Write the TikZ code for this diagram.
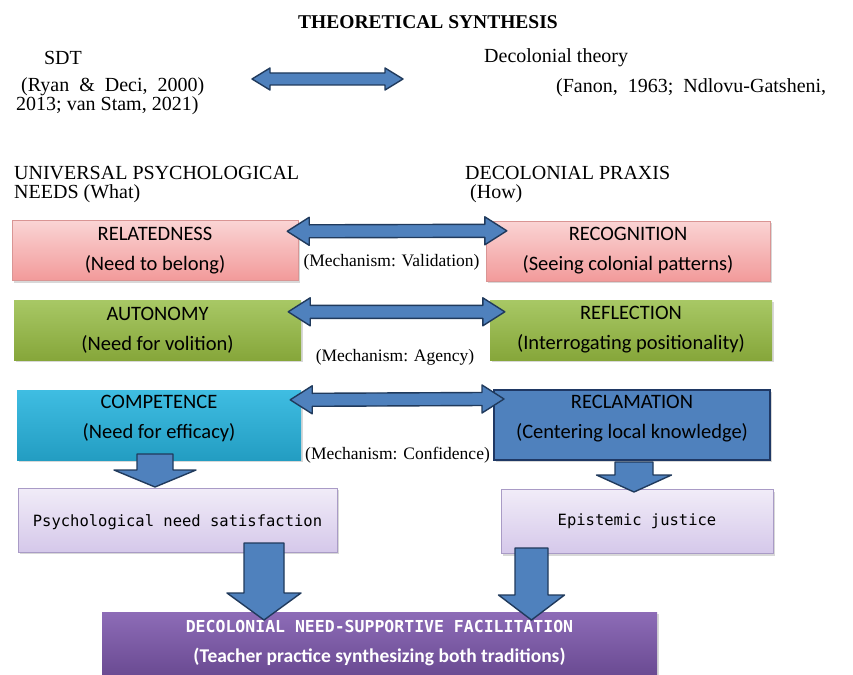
\documentclass[tikz,border=0pt]{standalone}
\usepackage{fontspec}
\setmainfont{Liberation Serif}
\newfontfamily\calfont{Carlito}
\newfontfamily\monofont{DejaVu Sans Mono}
\usepackage{xcolor}
\usetikzlibrary{positioning,calc,shadows}
\definecolor{pinktop}{HTML}{FAD4D4}
\definecolor{pinkbot}{HTML}{F29A9A}
\definecolor{pinkline}{HTML}{D99594}
\definecolor{greentop}{HTML}{A8C865}
\definecolor{greenbot}{HTML}{86A63A}
\definecolor{cyantop}{HTML}{3FBDE2}
\definecolor{cyanbot}{HTML}{239DC2}
\definecolor{reclfill}{HTML}{4F81BD}
\definecolor{reclline}{HTML}{1F3864}
\definecolor{lavtop}{HTML}{F1ECF8}
\definecolor{lavbot}{HTML}{D5C8EA}
\definecolor{lavline}{HTML}{A99BC6}
\definecolor{purtop}{HTML}{8D6CB7}
\definecolor{purbot}{HTML}{6B4B93}
\definecolor{arrowfill}{HTML}{4F81BD}
\definecolor{arrowline}{HTML}{203A5C}
\tikzset{
headtext/.style={
inner sep=0pt,
align=left,
font=\fontsize{20}{19}\selectfont
},
mechtext/.style={
inner sep=0pt,
font=\fontsize{17.5}{20}\selectfont
},
card/.style={
minimum height=60pt,
align=center,
inner sep=0pt,
font=\calfont\fontsize{20.5}{30}\selectfont,
drop shadow={shadow xshift=2pt,shadow yshift=-2pt,opacity=0.3}
},
pinkcard/.style={card,draw=pinkline,top color=pinktop,bottom color=pinkbot},
greencard/.style={card,top color=greentop,bottom color=greenbot},
outcome/.style={
minimum height=64pt,
align=center,
inner sep=0pt,
draw=lavline,
top color=lavtop,
bottom color=lavbot,
font=\monofont\fontsize{15.5}{20}\selectfont,
drop shadow={shadow xshift=2pt,shadow yshift=-2pt,opacity=0.3}
},
blockarrow/.style={
draw=arrowline,
fill=arrowfill,
line width=1.4pt,
line join=round
}
}
% horizontal double block arrow: left tip, right tip, head length, head half width, shaft half width
\newcommand{\sidearrow}[5]{%
\draw[blockarrow] (#1) -- ($(#1)+(#3,-#4)$) -- ($(#1)+(#3,-#5)$) -- ($(#2)+(-#3,-#5)$)
-- ($(#2)+(-#3,-#4)$) -- (#2) -- ($(#2)+(-#3,#4)$) -- ($(#2)+(-#3,#5)$)
-- ($(#1)+(#3,#5)$) -- ($(#1)+(#3,#4)$) -- cycle;}
% vertical block arrow: top of shaft, tip, head length, head half width, shaft half width
\newcommand{\droparrow}[5]{%
\draw[blockarrow] ($(#1)+(-#5,0)$) -- ($(#2)+(-#5,-#3)$) -- ($(#2)+(-#4,-#3)$) -- (#2)
-- ($(#2)+(#4,-#3)$) -- ($(#2)+(#5,-#3)$) -- ($(#1)+(#5,0)$) -- cycle;}

\begin{document}
\begin{tikzpicture}[x=1pt,y=-1pt]
\useasboundingbox[fill=white](0,0) rectangle (853,674);

% theories
\node[inner sep=0pt,font=\bfseries\fontsize{19.5}{23}\selectfont](title) at (428,22){THEORETICAL SYNTHESIS};
\node[headtext](sdt) at (63,58){SDT};
\node[headtext,anchor=west](sdtref) at (16,96){\ (Ryan \ \& \ Deci, \ 2000)\\2013; van Stam, 2021)};
\node[headtext,anchor=west](dec) at (484,58){Decolonial theory};
\node[headtext,anchor=west](decref) at (556,88){(Fanon, \ 1963; \ Ndlovu-Gatsheni,};
\coordinate (topl) at (252,79);
\coordinate (topr) at (403,79);
\sidearrow{topl}{topr}{18}{11}{6}

% column heads
\node[headtext,anchor=west](needs) at (14,184.5){UNIVERSAL PSYCHOLOGICAL\\NEEDS (What)};
\node[headtext,anchor=west](praxis) at (465,184.5){DECOLONIAL PRAXIS\\\ (How)};

% paired boxes
\node[pinkcard,minimum width=286pt](rel) at (155,250.5){RELATEDNESS\\(Need to belong)};
\node[pinkcard,minimum width=284pt](rec) at (628,251){RECOGNITION\\(Seeing colonial patterns)};
\node[greencard,minimum width=287pt](aut) at (157.5,330){AUTONOMY\\(Need for volition)};
\node[greencard,minimum width=282pt](ref) at (631,330){REFLECTION\\(Interrogating positionality)};
\node[card,top color=cyantop,bottom color=cyanbot,minimum width=284pt,minimum height=70pt](com) at (159,425){COMPETENCE\\(Need for efficacy)\\[-14pt]};
\node[card,draw=reclline,line width=2pt,fill=reclfill,minimum width=276pt,minimum height=70pt](recl) at (632,425){RECLAMATION\\(Centering local knowledge)\\[-14pt]};

\node[mechtext](val) at (391.5,262){(Mechanism: Validation)};
\node[mechtext](agency) at (395,357){(Mechanism: Agency)};
\node[mechtext](conf) at (397.5,455){(Mechanism: Confidence)};

\coordinate (r1l) at ($(rel.north east)+(-11,11)$);
\coordinate (r1r) at ($(rec.north west)+(21,10)$);
\coordinate (r2l) at ($(aut.north east)+(-13,12)$);
\coordinate (r2r) at ($(ref.north west)+(15,12)$);
\coordinate (r3l) at ($(com.north east)+(-11,10)$);
\coordinate (r3r) at ($(recl.north west)+(11,10)$);
\foreach \a/\b in {r1l/r1r,r2l/r2r,r3l/r3r}{
\sidearrow{\a}{\b}{22}{14}{6.5}
}

% outcomes
\node[outcome,minimum width=319pt](psy) at (177.5,520){Psychological need satisfaction\\[-22pt]};
\node[outcome,minimum width=272pt](epi) at (637,521.5){Epistemic justice};
\node[card,top color=purtop,bottom color=purbot,text=white,minimum width=555pt,minimum height=62pt,font=\calfont\bfseries\fontsize{19.5}{30}\selectfont](fac) at (379.5,643){{\monofont\fontsize{16.5}{20}\selectfont DECOLONIAL NEED-SUPPORTIVE FACILITATION}\\(Teacher practice synthesizing both traditions)};

\coordinate (comdown) at (155,454);
\coordinate (psyup) at (155,487);
\coordinate (recldown) at (634,462);
\coordinate (epiup) at (634,492);
\coordinate (psydown) at (264,543);
\coordinate (facl) at (264,620);
\coordinate (epidown) at (531.5,548);
\coordinate (facr) at (531.5,620);
\droparrow{comdown}{psyup}{17}{41}{18}
\droparrow{recldown}{epiup}{17}{37.5}{19}
\droparrow{psydown}{facl}{27}{37}{20}
\droparrow{epidown}{facr}{25}{33}{16.5}
\end{tikzpicture}
\end{document}
